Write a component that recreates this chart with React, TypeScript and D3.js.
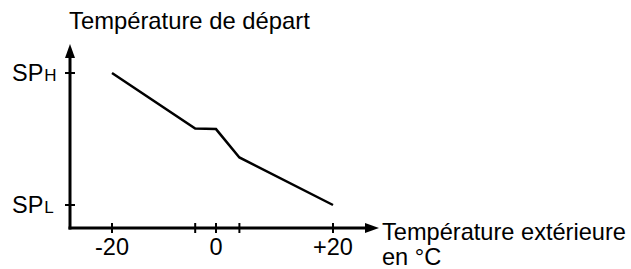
import React, { useEffect, useRef } from 'react';
import * as d3 from 'd3';

// outside temperature (°C) and flow temperature (0 = SPL, 1 = SPH)
const outsideTemps = [-20, -4, 0, 4, 20];
const flowLevels = [1.0, 0.58, 0.575, 0.36, 0.0];
const xTicks = [-20, -4, 0, 4, 20];
const xTickLabels = ['-20', '', '0', '', '+20'];
const yTicks = [0, 1];
const yTickLabels = [['SP', 'L'], ['SP', 'H']];

const App = () => {
  const svgRef = useRef<SVGSVGElement>(null);

  useEffect(() => {
    const svg = d3.select(svgRef.current);
    svg.selectAll('*').remove();

    const font = 'Liberation Sans, Arial, sans-serif';
    const originX = 70;
    const originY = 228;

    // schematic axis, not exactly linear around 0
    const x = d3.scaleLinear().domain([-20, 0, 20]).range([112, 216, 333]);
    const y = d3.scaleLinear().domain([0, 1]).range([205, 73]);

    // axes lines
    svg.append('line')
      .attr('x1', originX).attr('y1', originY + 1.5)
      .attr('x2', originX).attr('y2', 56)
      .attr('stroke', '#000').attr('stroke-width', 3);
    svg.append('line')
      .attr('x1', originX - 1.5).attr('y1', originY)
      .attr('x2', 368).attr('y2', originY)
      .attr('stroke', '#000').attr('stroke-width', 3);

    // arrow heads
    svg.append('path')
      .attr('d', `M${originX},44 L${originX - 5},58 L${originX + 5},58 Z`)
      .attr('fill', '#000');
    svg.append('path')
      .attr('d', `M379,${originY} L365,${originY - 5} L365,${originY + 5} Z`)
      .attr('fill', '#000');

    // x ticks
    svg.selectAll('.xtick')
      .data(xTicks)
      .enter()
      .append('line')
      .attr('class', 'xtick')
      .attr('x1', d => x(d)).attr('x2', d => x(d))
      .attr('y1', originY - 5).attr('y2', originY + 5)
      .attr('stroke', '#000').attr('stroke-width', 2);

    svg.selectAll('.xlabel')
      .data(xTicks)
      .enter()
      .append('text')
      .attr('class', 'xlabel')
      .attr('x', d => x(d))
      .attr('y', 255)
      .attr('text-anchor', 'middle')
      .attr('font-family', font)
      .attr('font-size', 23.5)
      .text((d, i) => xTickLabels[i]);

    // y ticks
    svg.selectAll('.ytick')
      .data(yTicks)
      .enter()
      .append('line')
      .attr('class', 'ytick')
      .attr('x1', originX - 5).attr('x2', originX + 5)
      .attr('y1', d => y(d)).attr('y2', d => y(d))
      .attr('stroke', '#000').attr('stroke-width', 2);

    const ylab = svg.selectAll('.ylabel')
      .data(yTicks)
      .enter()
      .append('text')
      .attr('class', 'ylabel')
      .attr('x', 12)
      .attr('y', d => y(d) + 8)
      .attr('font-family', font);
    ylab.append('tspan').attr('font-size', 23.5).text((d, i) => yTickLabels[i][0]);
    ylab.append('tspan').attr('font-size', 17).attr('dx', 1).text((d, i) => yTickLabels[i][1]);

    // curve
    const line = d3.line<number>()
      .x((d, i) => x(outsideTemps[i]))
      .y(d => y(d));
    svg.append('path')
      .datum(flowLevels)
      .attr('d', line)
      .attr('fill', 'none')
      .attr('stroke', '#000')
      .attr('stroke-width', 2.5);

    // axis titles
    svg.append('text')
      .attr('x', 69).attr('y', 29)
      .attr('font-family', font).attr('font-size', 23.8)
      .text('Température de départ');
    svg.append('text')
      .attr('x', 382).attr('y', 240)
      .attr('font-family', font).attr('font-size', 23.6)
      .text('Température extérieure');
    svg.append('text')
      .attr('x', 382).attr('y', 265)
      .attr('font-family', font).attr('font-size', 23.6)
      .text('en °C');
  }, []);

  return (
    <svg ref={svgRef} width={631} height={269}
      style={{ position: 'absolute', left: 0, top: 0, background: '#fff' }} />
  );
};

export default App;
